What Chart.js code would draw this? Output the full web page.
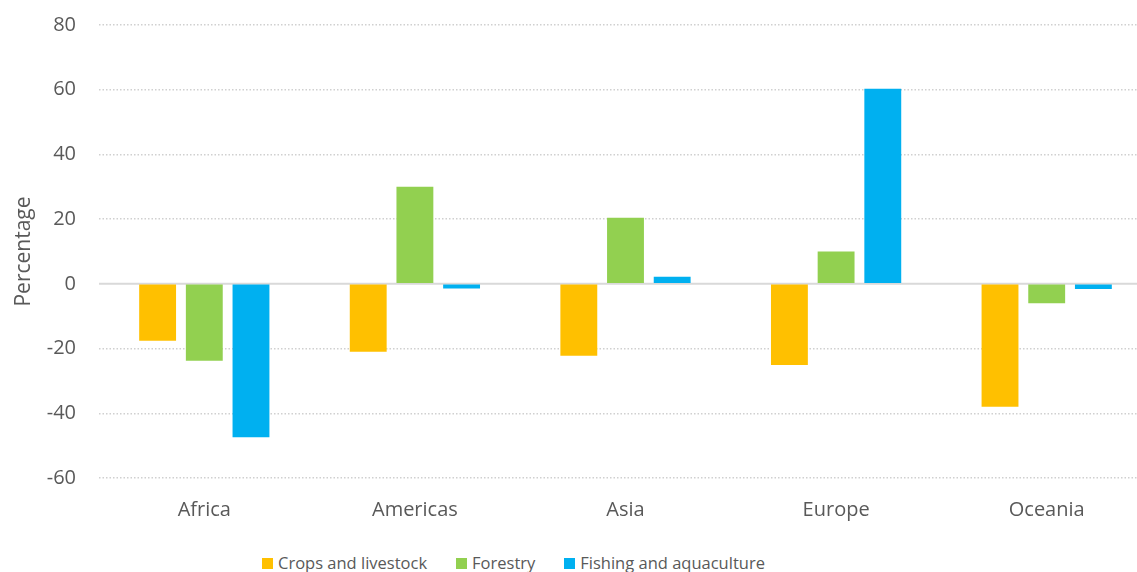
<!DOCTYPE html>
<html>
<head>
<meta charset="utf-8">
<script src="https://cdn.jsdelivr.net/npm/chart.js@4"></script>
<style>
  html, body { margin: 0; padding: 0; background: #fff; overflow: hidden; }
  #wrap { position: relative; width: 1152px; height: 572px; }
  #chart { position: absolute; left: 0; top: 0; }
  #legend {
    position: absolute; left: 262px; top: 550px;
    display: flex; gap: 29px; align-items: center;
    font-family: 'Open Sans', 'Noto Sans', sans-serif; font-size: 16.5px;
    color: #595959; white-space: nowrap; line-height: 26px;
  }
  #legend .item { display: flex; align-items: center; }
  #legend .box { width: 11px; height: 11px; margin-right: 5px; }
</style>
</head>
<body>
<div id="wrap">
  <canvas id="chart" width="1152" height="548"></canvas>
  <div id="legend"></div>
</div>
<script>
const regions = ["Africa", "Americas", "Asia", "Europe", "Oceania"];
const crops = [-17.6, -21.0, -22.2, -25.1, -38.0];
const forestry = [-23.8, 30.0, 20.4, 10.0, -6.0];
const fishing = [-47.4, -1.4, 2.2, 60.3, -1.6];
const yTicks = [-60, -40, -20, 0, 20, 40, 60, 80];

const textColor = "#595959";
const font = "'Open Sans', 'Noto Sans', sans-serif";

// solid line at zero, the other grid lines are dotted
const zeroLine = {
  id: "zeroLine",
  beforeDatasetsDraw(chart) {
    const y = chart.scales.y.getPixelForValue(0);
    const area = chart.chartArea;
    const ctx = chart.ctx;
    ctx.save();
    ctx.strokeStyle = "#d9d9d9";
    ctx.lineWidth = 2;
    ctx.beginPath();
    ctx.moveTo(area.left, y);
    ctx.lineTo(area.right, y);
    ctx.stroke();
    ctx.restore();
  },
};

const chart = new Chart(document.getElementById("chart"), {
  type: "bar",
  data: {
    labels: regions,
    datasets: [
      { label: "Crops and livestock", data: crops, backgroundColor: "#FFC000" },
      { label: "Forestry", data: forestry, backgroundColor: "#92D050" },
      { label: "Fishing and aquaculture", data: fishing, backgroundColor: "#00B0F0" },
    ],
  },
  options: {
    responsive: false,
    animation: false,
    categoryPercentage: 0.665,
    barPercentage: 0.79,
    layout: { padding: { top: 25, right: 0, bottom: 6, left: 0 } },
    plugins: {
      legend: { display: false },
      tooltip: { enabled: false },
    },
    scales: {
      x: {
        grid: { display: false, drawTicks: false },
        border: { display: false },
        ticks: { color: textColor, font: { family: font, size: 20 }, padding: 20 },
      },
      y: {
        min: -60,
        max: 80,
        afterBuildTicks: (scale) => {
          scale.ticks = yTicks.map((v) => ({ value: v }));
        },
        afterFit: (scale) => {
          scale.width = 99;
        },
        grid: {
          drawTicks: true,
          tickLength: 20,
          tickColor: "rgba(0,0,0,0)",
          color: (ctx) => (ctx.tick && ctx.tick.value === 0 ? "rgba(0,0,0,0)" : "#d0d0d0"),
          lineWidth: 1.5,
        },
        border: { display: false, dash: [1.5, 2] },
        ticks: { color: textColor, font: { family: font, size: 20 }, padding: 3 },
        title: {
          display: true,
          text: "Percentage",
          color: textColor,
          font: { family: font, size: 21 },
          padding: { top: 11, bottom: 0 },
        },
      },
    },
  },
  plugins: [zeroLine],
});

// html legend built from the datasets
const legendEl = document.getElementById("legend");
chart.data.datasets.forEach((ds) => {
  const item = document.createElement("div");
  item.className = "item";
  const box = document.createElement("span");
  box.className = "box";
  box.style.background = ds.backgroundColor;
  const label = document.createElement("span");
  label.textContent = ds.label;
  item.appendChild(box);
  item.appendChild(label);
  legendEl.appendChild(item);
});
</script>
</body>
</html>
